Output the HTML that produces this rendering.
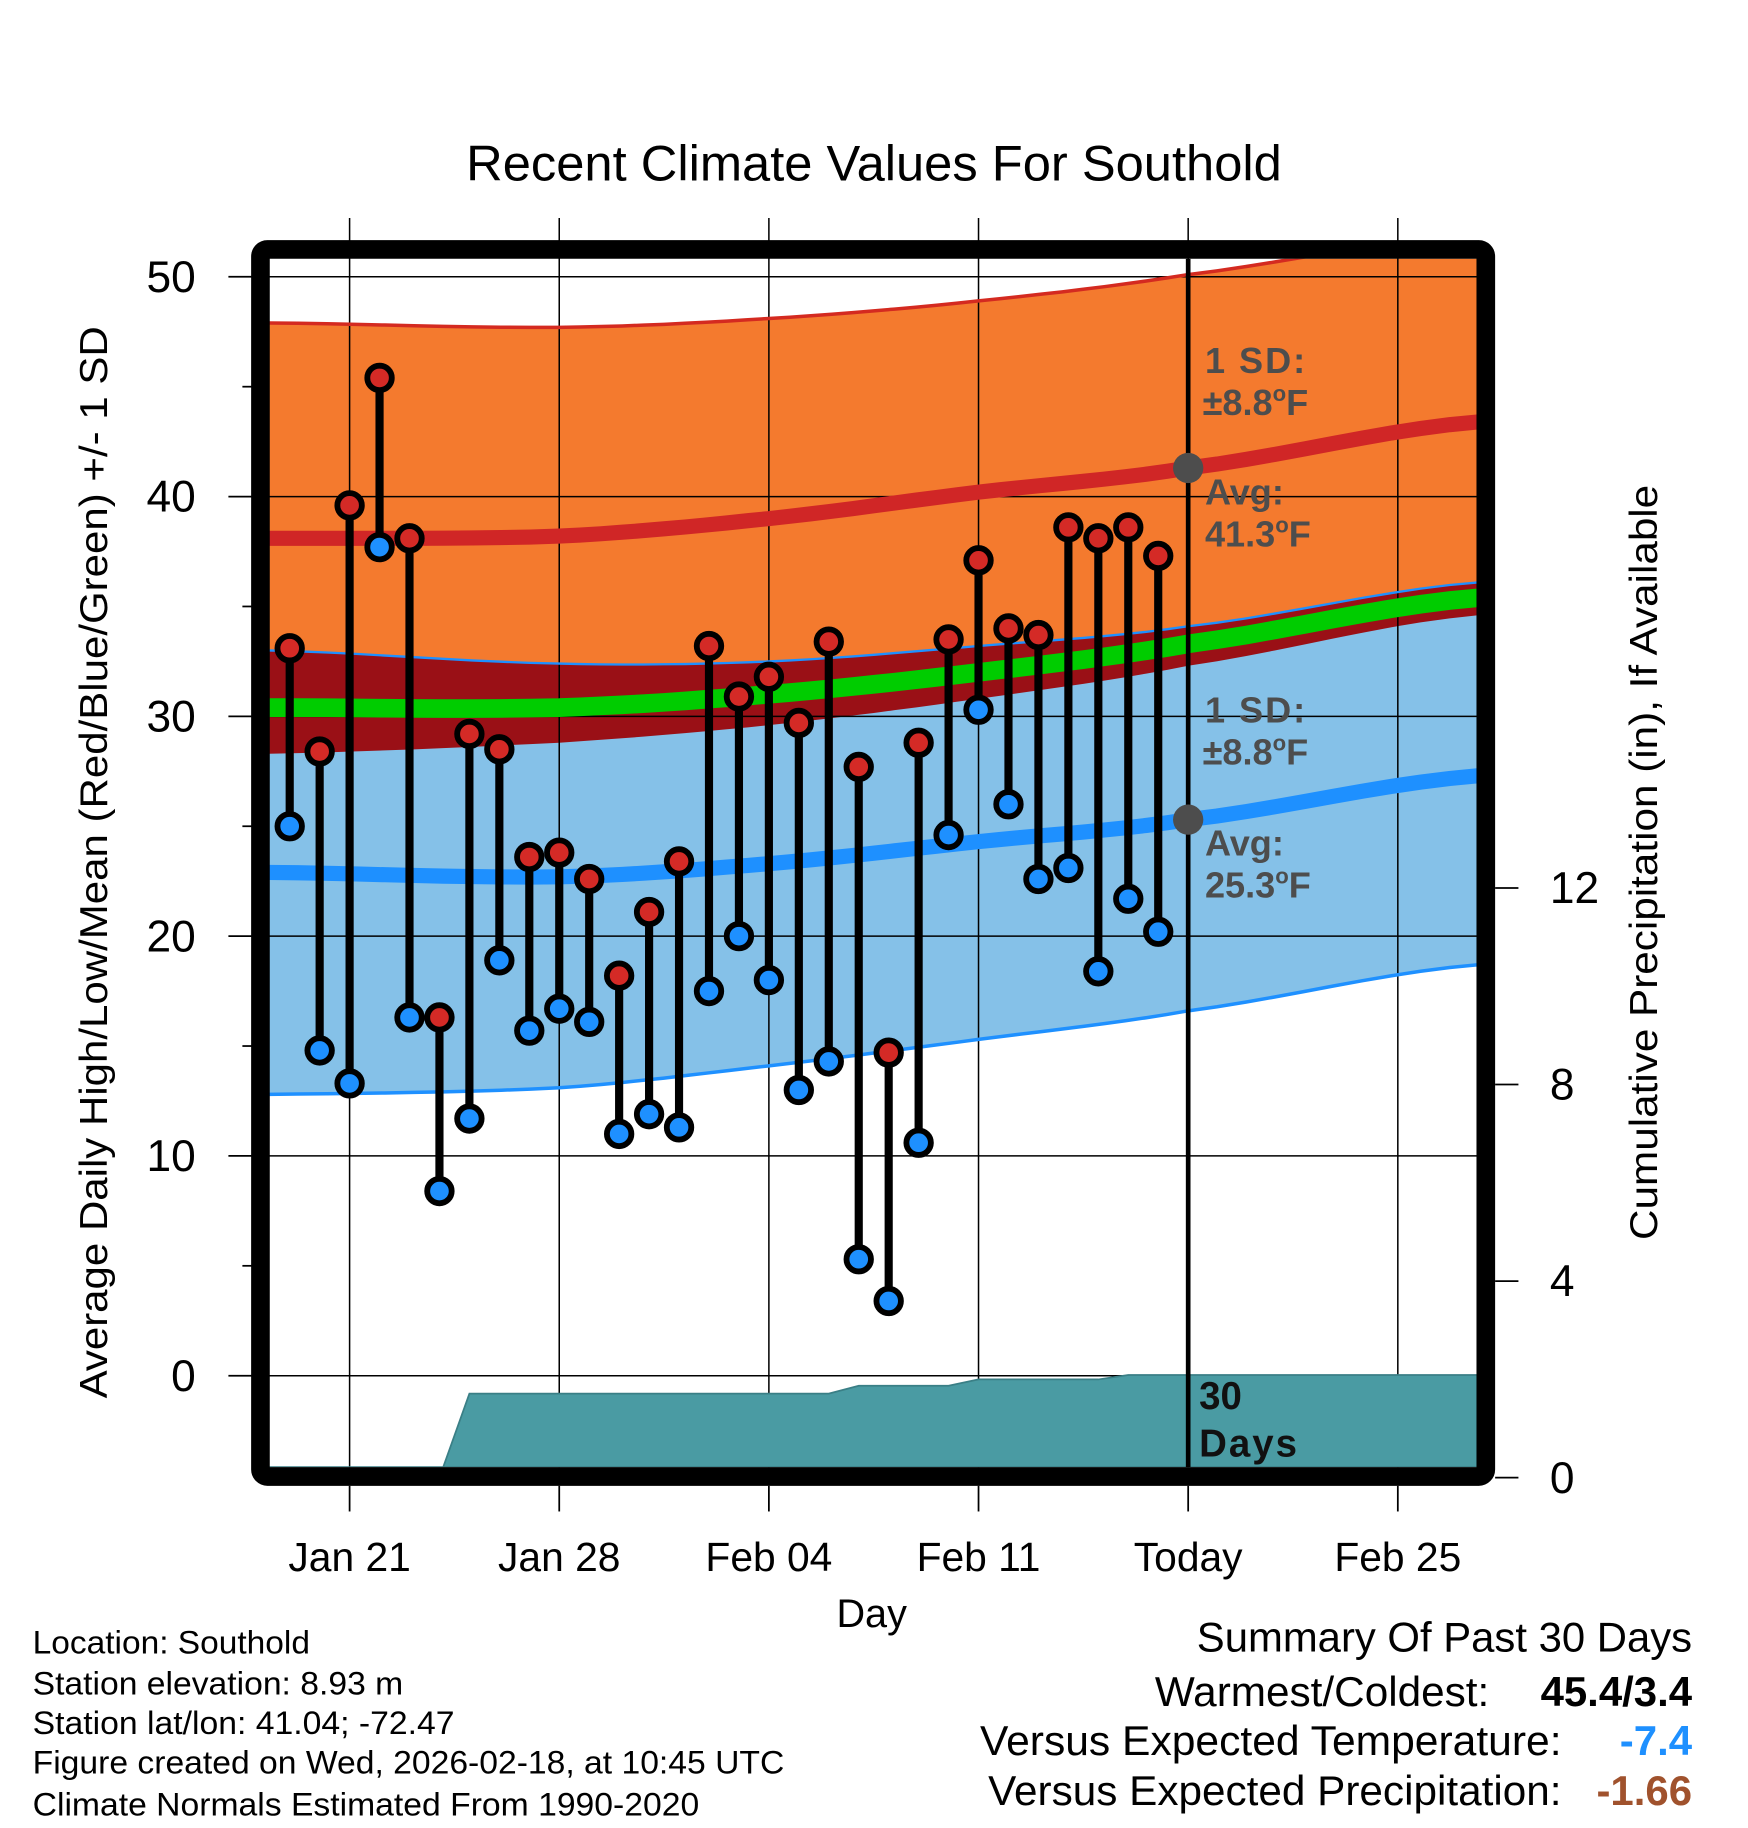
<!DOCTYPE html>
<html><head><meta charset="utf-8"><style>
html,body{margin:0;padding:0;background:#fff}
svg{display:block}
text{font-family:"Liberation Sans",Arial,sans-serif}
</style></head><body>
<svg id="chart" width="1748" height="1828" viewBox="0 0 1500 1568.6" xmlns="http://www.w3.org/2000/svg">
<g id="bands"></g>
<g id="grid"></g>
<g id="precip"></g>
<g id="lines"></g>
<g id="marks"></g>
<g id="annot">
  <text x="1034" y="320" font-size="31" font-weight="bold" fill="#4d4d4d" textLength="86">1 SD:</text>
  <text x="1032" y="356" font-size="31" font-weight="bold" fill="#4d4d4d">±8.8<tspan font-size="19" dy="-12">o</tspan><tspan dy="12">F</tspan></text>
  <text x="1034" y="433" font-size="31" font-weight="bold" fill="#4d4d4d">Avg:</text>
  <text x="1034" y="469" font-size="31" font-weight="bold" fill="#4d4d4d">41.3<tspan font-size="19" dy="-12">o</tspan><tspan dy="12">F</tspan></text>
  <text x="1034" y="620" font-size="31" font-weight="bold" fill="#4d4d4d" textLength="86">1 SD:</text>
  <text x="1032" y="656" font-size="31" font-weight="bold" fill="#4d4d4d">±8.8<tspan font-size="19" dy="-12">o</tspan><tspan dy="12">F</tspan></text>
  <text x="1034" y="734" font-size="31" font-weight="bold" fill="#4d4d4d">Avg:</text>
  <text x="1034" y="770" font-size="31" font-weight="bold" fill="#4d4d4d">25.3<tspan font-size="19" dy="-12">o</tspan><tspan dy="12">F</tspan></text>
  <text x="1029" y="1209" font-size="33" font-weight="bold" fill="#111">30</text>
  <text x="1029" y="1250" font-size="33" font-weight="bold" fill="#111" textLength="84">Days</text>
</g>
<rect x="223.5" y="214" width="1051.5" height="1053" rx="6" fill="none" stroke="#000" stroke-width="16"/>
<g id="axes"></g>
<text x="400" y="155" font-size="43" textLength="700" lengthAdjust="spacingAndGlyphs">Recent Climate Values For Southold</text>
<text transform="translate(92,1200) rotate(-90)" font-size="33" textLength="920" lengthAdjust="spacingAndGlyphs">Average Daily High/Low/Mean (Red/Blue/Green) +/- 1 SD</text>
<text transform="translate(1422,1064) rotate(-90)" font-size="33" textLength="648" lengthAdjust="spacingAndGlyphs">Cumulative Precipitation (in), If Available</text>
<text x="748" y="1396" font-size="34" text-anchor="middle">Day</text>
<g font-size="28">
<text x="28" y="1419" textLength="238" lengthAdjust="spacingAndGlyphs">Location: Southold</text>
<text x="28" y="1454" textLength="318" lengthAdjust="spacingAndGlyphs">Station elevation: 8.93 m</text>
<text x="28" y="1488" textLength="362" lengthAdjust="spacingAndGlyphs">Station lat/lon: 41.04; -72.47</text>
<text x="28" y="1522" textLength="645" lengthAdjust="spacingAndGlyphs">Figure created on Wed, 2026-02-18, at 10:45 UTC</text>
<text x="28" y="1558" textLength="572" lengthAdjust="spacingAndGlyphs">Climate Normals Estimated From 1990-2020</text>
</g>
<g font-size="36">
<text x="1027" y="1417" textLength="425" lengthAdjust="spacingAndGlyphs">Summary Of Past 30 Days</text>
<text x="991" y="1464" textLength="287" lengthAdjust="spacingAndGlyphs">Warmest/Coldest:</text>
<text x="1322" y="1464" textLength="130" lengthAdjust="spacingAndGlyphs" font-weight="bold">45.4/3.4</text>
<text x="841" y="1506" textLength="499" lengthAdjust="spacingAndGlyphs">Versus Expected Temperature:</text>
<text x="1452" y="1506" text-anchor="end" font-weight="bold" fill="#1E90FF">-7.4</text>
<text x="848" y="1549" textLength="492" lengthAdjust="spacingAndGlyphs">Versus Expected Precipitation:</text>
<text x="1452" y="1549" text-anchor="end" font-weight="bold" fill="#A0522D">-1.66</text>
</g>
</svg>
<script>
const dayLabels = ["Jan 19","Jan 20","Jan 21","Jan 22","Jan 23","Jan 24","Jan 25","Jan 26","Jan 27","Jan 28","Jan 29","Jan 30","Jan 31","Feb 01","Feb 02","Feb 03","Feb 04","Feb 05","Feb 06","Feb 07","Feb 08","Feb 09","Feb 10","Feb 11","Feb 12","Feb 13","Feb 14","Feb 15","Feb 16","Feb 17"];
const highs = [33.1,28.4,39.6,45.4,38.1,16.3,29.2,28.5,23.6,23.8,22.6,18.2,21.1,23.4,33.2,30.9,31.8,29.7,33.4,27.7,14.7,28.8,33.5,37.1,34.0,33.7,38.6,38.1,38.6,37.3];
const lows = [25.0,14.8,13.3,37.7,16.3,8.4,11.7,18.9,15.7,16.7,16.1,11.0,11.9,11.3,17.5,20.0,18.0,13.0,14.3,5.3,3.4,10.6,24.6,30.3,26.0,22.6,23.1,18.4,21.7,20.2];
const precipCum = [0,0,0,0,0,0,1.71,1.71,1.71,1.71,1.71,1.71,1.71,1.71,1.71,1.71,1.71,1.71,1.71,1.87,1.87,1.87,1.87,2.0,2.0,2.0,2.0,2.0,2.09,2.09];
const normDays = [-2.7,7,14,21,28,37.7];
const upperHigh = [47.9,47.7,48.1,48.9,50.1,52.0];
const highAvg = [38.1,38.2,39.0,40.2,41.3,43.4];
const lowerHigh = [28.3,28.8,29.6,30.8,32.3,34.6];
const upperLow = [33.0,32.4,32.5,33.2,34.1,36.1];
const lowAvg = [22.9,22.7,23.3,24.3,25.3,27.3];
const lowerLow = [12.8,13.1,14.1,15.3,16.6,18.7];
const meanAvg = [30.4,30.4,31.0,32.0,33.3,35.4];
const yTicks = [0,10,20,30,40,50];
const y2Ticks = [0,4,8,12];
const xTickDays = [0,7,14,21,28,35];
const xTickLabels = ["Jan 21","Jan 28","Feb 04","Feb 11","Today","Feb 25"];

const NS = "http://www.w3.org/2000/svg";
const L = 231, R = 1268, T = 222, B = 1259;
const x = d => 300 + 25.7 * d;
const y = v => 1180.5 - 18.86 * v;
const yp = p => 1268 - 42.17 * p;
function mk(tag, attrs, parent) { const e = document.createElementNS(NS, tag); for (const k in attrs) e.setAttribute(k, attrs[k]); parent.appendChild(e); return e; }
function interp(arr, steps) {
  const n = normDays.length, pts = [];
  const g = i => Math.max(0, Math.min(n - 1, i));
  for (let i = 0; i < n - 1; i++) {
    for (let s = 0; s < steps; s++) {
      const t = s / steps;
      const p0 = arr[g(i-1)], p1 = arr[i], p2 = arr[i+1], p3 = arr[g(i+2)];
      const v = 0.5 * ((2*p1) + (-p0 + p2)*t + (2*p0 - 5*p1 + 4*p2 - p3)*t*t + (-p0 + 3*p1 - 3*p2 + p3)*t*t*t);
      pts.push([normDays[i] + (normDays[i+1]-normDays[i])*t, v]);
    }
  }
  pts.push([normDays[n-1], arr[n-1]]);
  return pts;
}
function band(upper, lower) { const u = interp(upper, 10), l = interp(lower, 10).reverse(); return u.concat(l).map(p => x(p[0]).toFixed(1) + "," + y(p[1]).toFixed(1)).join(" "); }
function line(arr) { return interp(arr, 10).map(p => x(p[0]).toFixed(1) + "," + y(p[1]).toFixed(1)).join(" "); }

const clip = mk("clipPath", {id: "plotclip"}, document.getElementById("chart"));
mk("rect", {x: L, y: T, width: R - L, height: B - T}, clip);

const bands = document.getElementById("bands");
bands.setAttribute("clip-path", "url(#plotclip)");
let e;
e = mk("polygon", {points: band(upperHigh, lowerHigh), fill: "#F47A2E"}, bands);


e = mk("polygon", {points: band(upperLow, lowerLow), fill: "#85C1E8"}, bands);


e = mk("polygon", {points: band(upperLow, lowerHigh), fill: "#9A1016"}, bands);



const grid = document.getElementById("grid");
yTicks.forEach(v => { const g = mk("line", {x1: L, x2: R, y1: y(v), y2: y(v), stroke: "#000", "stroke-width": 1.3}, grid);

 });
xTickDays.forEach(d => { const g = mk("line", {x1: x(d), x2: x(d), y1: 187, y2: B, stroke: "#000", "stroke-width": 1.3}, grid);

 });

const pr = document.getElementById("precip");
pr.setAttribute("clip-path", "url(#plotclip)");
let ppts = [[x(-2.7), yp(0)]];
precipCum.forEach((p, i) => ppts.push([x(i - 2), yp(p)]));
ppts.push([R, yp(precipCum[precipCum.length - 1])]);
const ppoly = ppts.map(p => p[0].toFixed(1) + "," + p[1].toFixed(1)).join(" ") + ` ${R},${B} ${L},${B}`;
e = mk("polygon", {points: ppoly, fill: "#4A9BA3", stroke: "#3a7f86", "stroke-width": 1.5}, pr);



const lines = document.getElementById("lines");
lines.setAttribute("clip-path", "url(#plotclip)");
[[upperHigh, "#D42A20", 3, "upper-high-line"], [upperLow, "#1E90FF", 2, "upper-low-line"], [lowerLow, "#1E90FF", 3, "lower-low-line"], [meanAvg, "#00CC00", 16, "mean-line"], [highAvg, "#D02626", 13, "high-avg-line"], [lowAvg, "#1E90FF", 13, "low-avg-line"]].forEach(c => {
  const l = mk("polyline", {points: line(c[0]), fill: "none", stroke: c[1], "stroke-width": c[2]}, lines);
  
  
});
e = mk("line", {x1: x(28), x2: x(28), y1: T, y2: B, stroke: "#000", "stroke-width": 4}, lines);


e = mk("circle", {cx: x(28), cy: y(41.3), r: 13, fill: "#4d4d4d"}, lines);


e = mk("circle", {cx: x(28), cy: y(25.3), r: 13, fill: "#4d4d4d"}, lines);



const marks = document.getElementById("marks");
highs.forEach((h, i) => {
  const d = i - 2;
  const s = mk("line", {x1: x(d), x2: x(d), y1: y(h), y2: y(lows[i]), stroke: "#000", "stroke-width": 7}, marks);
  
  
});
highs.forEach((h, i) => {
  const d = i - 2;
  const a = mk("circle", {cx: x(d), cy: y(h), r: 10.5, fill: "#D42A26", stroke: "#000", "stroke-width": 5}, marks);
  
  
  const b = mk("circle", {cx: x(d), cy: y(lows[i]), r: 10.5, fill: "#1E90FF", stroke: "#000", "stroke-width": 5}, marks);
  
  
});

const axes = document.getElementById("axes");
yTicks.forEach(v => {
  const t = mk("line", {x1: 196, x2: 216, y1: y(v), y2: y(v), stroke: "#000", "stroke-width": 1.5}, axes);
  
  
  const tx = mk("text", {x: 168, y: y(v) + 13, "font-size": 38, "text-anchor": "end"}, axes);
  tx.textContent = v;
  
  
});
[5,15,25,35,45].forEach(v => {
  const t = mk("line", {x1: 208, x2: 216, y1: y(v), y2: y(v), stroke: "#000", "stroke-width": 1.5}, axes);
  
  
});
y2Ticks.forEach(p => {
  const t = mk("line", {x1: 1283, x2: 1303, y1: yp(p), y2: yp(p), stroke: "#000", "stroke-width": 1.5}, axes);
  
  
  const tx = mk("text", {x: 1330, y: yp(p) + 13, "font-size": 38}, axes);
  tx.textContent = p;
  
  
});
xTickDays.forEach((d, i) => {
  const t = mk("line", {x1: x(d), x2: x(d), y1: 1275, y2: 1297, stroke: "#000", "stroke-width": 1.5}, axes);
  
  
  const tx = mk("text", {x: x(d), y: 1348, "font-size": 35, "text-anchor": "middle"}, axes);
  tx.textContent = xTickLabels[i];
  
  
});
</script>
</body></html>
